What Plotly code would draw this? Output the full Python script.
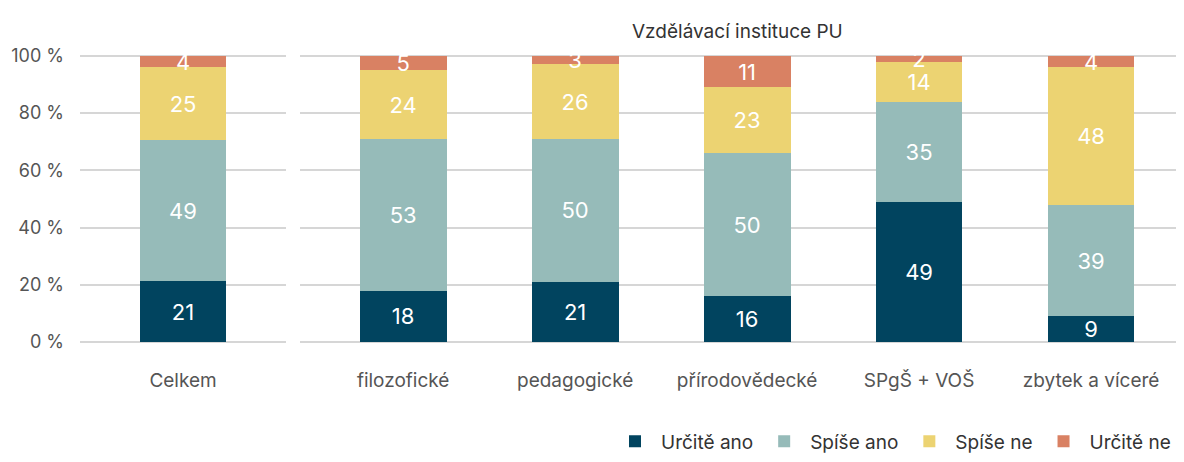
import plotly.graph_objects as go

# ---- data ----
overall_cat = ["Celkem"]
inst_cats = ["filozofické", "pedagogické", "přírodovědecké", "SPgŠ + VOŠ", "zbytek a víceré"]
series_names = ["Určitě ano", "Spíše ano", "Spíše ne", "Určitě ne"]
overall_vals = {
    "Určitě ano": [21],
    "Spíše ano": [49],
    "Spíše ne": [25],
    "Určitě ne": [4],
}
inst_vals = {
    "Určitě ano": [18, 21, 16, 49, 9],
    "Spíše ano": [53, 50, 50, 35, 39],
    "Spíše ne": [24, 26, 23, 14, 48],
    "Určitě ne": [5, 3, 11, 2, 4],
}
colors = {
    "Určitě ano": "#01445F",
    "Spíše ano": "#96BBB9",
    "Spíše ne": "#ECD372",
    "Určitě ne": "#D98163",
}
y_ticks = [0, 20, 40, 60, 80, 100]
y_tick_labels = ["0 %", "20 %", "40 %", "60 %", "80 %", "100 %"]
panel_title = "Vzdělávací instituce PU"

FONT = "Inter"
fig = go.Figure()
for name in series_names:
    for cats, vals, xa, show in ((overall_cat, overall_vals, "x", True),
                                 (inst_cats, inst_vals, "x2", False)):
        fig.add_trace(go.Bar(
            x=cats, y=vals[name], name=name,
            marker=dict(color=colors[name], line=dict(width=0)),
            text=vals[name], texttemplate="%{text}",
            textposition="inside", insidetextanchor="middle", textangle=0,
            textfont=dict(color="white", size=22, family=FONT),
            width=0.505, xaxis=xa, yaxis="y",
            legendgroup=name, showlegend=show, constraintext="none",
            hoverinfo="skip",
        ))

axis_font = dict(family=FONT, size=18, color="#555555")
cat_font = dict(family=FONT, size=19, color="#555555")
fig.update_layout(
    width=1168, height=446,
    margin=dict(l=72, r=0, t=45, b=109, autoexpand=False),
    paper_bgcolor="white", plot_bgcolor="white",
    barmode="stack", barnorm="percent",
    uniformtext=dict(minsize=22, mode="show"),
    font=dict(family=FONT, size=18, color="#444444"),
    xaxis=dict(domain=[0, 0.188], anchor="y", type="category",
               range=[-0.6, 0.6], showgrid=False, zeroline=False,
               showline=False, ticks="", tickfont=cat_font,
               ticklabelstandoff=22, automargin=False),
    xaxis2=dict(domain=[0.2007, 1], anchor="y", type="category",
                range=[-0.6, 4.494], showgrid=False, zeroline=False,
                showline=False, ticks="", tickfont=cat_font,
                ticklabelstandoff=22, automargin=False),
    yaxis=dict(range=[-1, 101], tickmode="array", tickvals=y_ticks,
               ticktext=y_tick_labels,
               showgrid=True, gridcolor="#D6D6D6", gridwidth=2,
               zeroline=False, showline=False, ticks="",
               tickfont=axis_font, ticklabelstandoff=15, anchor="x",
               automargin=False),
    legend=dict(orientation="h", x=1, xanchor="right", y=-0.33,
                yanchor="middle", font=dict(family=FONT, size=19, color="#333333"),
                traceorder="normal", itemwidth=42),
    annotations=[dict(text=panel_title, xref="x2 domain", yref="paper",
                      x=0.5, y=1, yshift=35, showarrow=False,
                      font=dict(family=FONT, size=19, color="#333333"))],
    showlegend=True,
)

fig.write_html("out.html")
